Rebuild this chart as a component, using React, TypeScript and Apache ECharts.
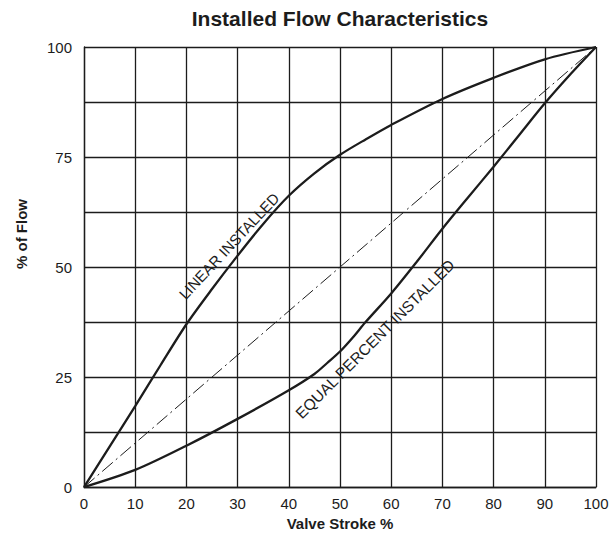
import React, { useEffect, useRef } from "react";
import * as echarts from "echarts";

const xTicks = [0, 10, 20, 30, 40, 50, 60, 70, 80, 90, 100];
const yTickLabels = ["0", "25", "50", "75", "100"];

const linearInstalled: [number, number][] = [
  [0, 0], [5, 9.2], [10, 18.4], [15, 27.8], [20, 37], [25, 45], [30, 52.6],
  [35, 59.8], [40, 66.2], [45, 71.3], [50, 75.5], [55, 79], [60, 82.3],
  [70, 88.2], [80, 93], [90, 97.2], [100, 100],
];

const equalPercentInstalled: [number, number][] = [
  [0, 0], [10, 3.9], [20, 9.4], [30, 15.5], [40, 22], [45, 25.7], [47.5, 28.2],
  [50, 30.8], [52.5, 34], [55, 37.5], [60, 44], [65, 51.2], [70, 58.7], [75, 65.8],
  [80, 72.8], [85, 80], [90, 87.2], [95, 93.8], [100, 100],
];

const linearFlow: [number, number][] = [[0, 0], [100, 100]];

const FONT = "'Liberation Sans', Arial, Helvetica, sans-serif";

export default function App() {
  const ref = useRef<HTMLDivElement>(null);
  useEffect(() => {
    document.body.style.margin = "0";
    if (!ref.current) return;
    const chart = echarts.init(ref.current, undefined, { renderer: "svg" });
    const ink = "#1c1c1c";
    chart.setOption({
      animation: false,
      backgroundColor: "#ffffff",
      grid: { left: 84, right: 17, top: 47, bottom: 42, containLabel: false },
      xAxis: {
        type: "value",
        min: 0,
        max: 100,
        interval: 10,
        name: "Valve Stroke %",
        nameLocation: "middle",
        nameGap: 27,
        nameTextStyle: { fontFamily: FONT, fontWeight: "bold", fontSize: 15, color: ink },
        axisLine: { show: true, lineStyle: { color: ink, width: 1.3 } },
        axisTick: { show: false },
        axisLabel: {
          margin: 9,
          fontFamily: FONT,
          fontSize: 15,
          color: ink,
          formatter: (v: number) => (xTicks.includes(v) ? String(v) : ""),
        },
        splitLine: { show: true, lineStyle: { color: ink, width: 1.3 } },
      },
      yAxis: {
        type: "value",
        min: 0,
        max: 100,
        interval: 12.5,
        axisLine: { show: true, lineStyle: { color: ink, width: 1.3 } },
        axisTick: { show: false },
        axisLabel: {
          margin: 12,
          fontFamily: FONT,
          fontSize: 15,
          color: ink,
          formatter: (v: number) => {
            const s = String(v);
            return yTickLabels.includes(s) ? s : "";
          },
        },
        splitLine: { show: true, lineStyle: { color: ink, width: 1.3 } },
      },
      series: [
        {
          name: "LINEAR INSTALLED",
          type: "line",
          data: linearInstalled,
          smooth: 0.3,
          symbol: "none",
          lineStyle: { color: ink, width: 2.3 },
          z: 3,
        },
        {
          name: "EQUAL PERCENT INSTALLED",
          type: "line",
          data: equalPercentInstalled,
          smooth: 0.3,
          symbol: "none",
          lineStyle: { color: ink, width: 2.3 },
          z: 3,
        },
        {
          name: "Linear",
          type: "line",
          data: linearFlow,
          symbol: "none",
          lineStyle: { color: ink, width: 1, type: [14, 4, 2, 4] },
          z: 2,
        },
      ],
      graphic: [
        {
          type: "text",
          x: 340,
          y: 18,
          style: {
            text: "Installed Flow Characteristics",
            font: `bold 21px ${FONT}`,
            fill: ink,
            align: "center",
            verticalAlign: "middle",
          },
        },
        {
          type: "text",
          x: 21,
          y: 234,
          rotation: Math.PI / 2,
          style: {
            text: "% of Flow",
            font: `bold 15px ${FONT}`,
            fill: ink,
            align: "center",
            verticalAlign: "middle",
          },
        },
        {
          type: "text",
          x: 229,
          y: 246,
          rotation: (47 * Math.PI) / 180,
          style: {
            text: "LINEAR INSTALLED",
            font: `15px ${FONT}`,
            fill: ink,
            align: "center",
            verticalAlign: "middle",
          },
        },
        {
          type: "text",
          x: 375,
          y: 339,
          rotation: (45 * Math.PI) / 180,
          style: {
            text: "EQUAL PERCENT INSTALLED",
            font: `15.5px ${FONT}`,
            fill: ink,
            align: "center",
            verticalAlign: "middle",
          },
        },
      ],
    });
    return () => chart.dispose();
  }, []);
  return <div ref={ref} style={{ width: 613, height: 536 }} />;
}
